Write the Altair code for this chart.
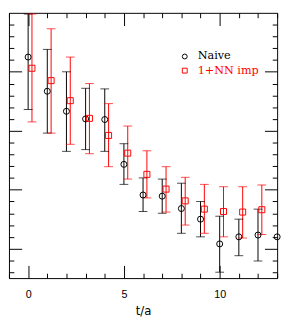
import altair as alt
import pandas as pd

# ---- data ----
t_naive = list(range(14))
naive_val = [4.25, 3.67, 3.33, 3.20, 3.19, 2.43, 1.91, 1.89, 1.68, 1.50, 1.08, 1.20, 1.23, 1.20]
naive_lo = [3.36, 2.96, 2.65, 2.68, 2.65, 2.09, 1.63, 1.60, 1.26, 1.20, 0.60, 0.88, 0.79, None]
naive_hi = [4.98, 4.38, 4.00, 3.72, 3.71, 2.78, 2.20, 2.18, 2.11, 1.80, 1.55, 1.50, 1.67, None]

t_imp = list(range(13))
imp_val = [4.06, 3.85, 3.51, 3.21, 2.92, 2.62, 2.26, 2.01, 1.81, 1.67, 1.63, 1.62, 1.66]
imp_lo = [3.15, 2.96, 2.77, 2.61, 2.39, 2.18, 1.86, 1.62, 1.40, 1.26, 1.20, 1.18, 1.24]
imp_hi = [4.98, 4.73, 4.25, 3.80, 3.46, 3.08, 2.66, 2.39, 2.21, 2.09, 2.05, 2.05, 2.08]

series_names = ["Naive", "1+NN imp"]
series_colors = ["#000000", "#ff0000"]
series_shapes = ["circle", "square"]

x_title = "t/a"
x_major = [0, 5, 10]
x_minor = [v for v in range(-1, 14) if v % 5 != 0]
y_major = [1, 2, 3, 4]
y_minor = [v / 10 for v in range(6, 50, 2) if v % 10 != 0]

rows = []
for t, v, lo, hi in zip(t_naive, naive_val, naive_lo, naive_hi):
    rows.append({"series": series_names[0], "t": t, "val": v, "lo": lo, "hi": hi})
for t, v, lo, hi in zip(t_imp, imp_val, imp_lo, imp_hi):
    rows.append({"series": series_names[1], "t": t, "val": v, "lo": lo, "hi": hi})
df = pd.DataFrame(rows)

xs = alt.Scale(domain=[-1, 13], nice=False, zero=False)
ys = alt.Scale(domain=[0.5, 5.0], nice=False, zero=False)
cscale = alt.Scale(domain=series_names, range=series_colors)
sscale = alt.Scale(domain=series_names, range=series_shapes)


def axis(orient, values, size, **extra):
    opts = dict(orient=orient, values=values, tickSize=size, offset=-size,
                labels=False, domain=False, grid=False, tickColor="#000000",
                tickWidth=1, title=None)
    opts.update(extra)
    return alt.Axis(**opts)


bottom_major = axis("bottom", x_major, 13, labels=True, labelPadding=11,
                    labelFont="Liberation Sans", labelFontSize=11, labelColor="#000000",
                    title=x_title, titleFont="DejaVu Sans", titleFontSize=12,
                    titleFontWeight="normal", titleColor="#000000", titlePadding=6)
bottom_minor = axis("bottom", x_minor, 5)
top_major = axis("top", x_major, 13)
top_minor = axis("top", x_minor, 5)
left_major = axis("left", y_major, 13)
left_minor = axis("left", y_minor, 5)
right_major = axis("right", y_major, 13)
right_minor = axis("right", y_minor, 5)

legend = alt.Legend(
    orient="none", legendX=174.5, legendY=39, title=None, padding=0,
    labelFont="DejaVu Serif", labelFontSize=11.5, labelOffset=7.5,
    labelColor={"expr": "datum.label === 'Naive' ? '#000000' : '#ff0000'"},
    symbolSize=25, symbolStrokeWidth=1, rowPadding=1.5,
)

base = alt.Chart(df).transform_calculate(
    xpos="datum.t + (datum.series === 'Naive' ? 0 : 0.2)"
)
col = alt.condition("datum.series === 'Naive'", alt.value(series_colors[0]),
                    alt.value(series_colors[1]))

bars = base.transform_filter("isValid(datum.lo)").mark_rule(strokeWidth=1).encode(
    x=alt.X("xpos:Q", scale=xs, axis=bottom_major),
    y=alt.Y("lo:Q", scale=ys, axis=left_major),
    y2="hi:Q",
    color=col,
)
cap_hi = base.transform_filter("isValid(datum.hi)").mark_tick(
    orient="horizontal", size=9, thickness=1
).encode(
    x=alt.X("xpos:Q", scale=xs, axis=bottom_minor),
    y=alt.Y("hi:Q", scale=ys, axis=left_minor),
    color=col,
)
cap_lo = base.transform_filter("isValid(datum.lo)").mark_tick(
    orient="horizontal", size=9, thickness=1
).encode(
    x=alt.X("xpos:Q", scale=xs, axis=top_major),
    y=alt.Y("lo:Q", scale=ys, axis=right_major),
    color=col,
)
points = base.mark_point(size=38, strokeWidth=1, filled=False, opacity=1).encode(
    x=alt.X("xpos:Q", scale=xs, axis=top_minor),
    y=alt.Y("val:Q", scale=ys, axis=right_minor),
    color=alt.Color("series:N", scale=cscale, legend=legend),
    shape=alt.Shape("series:N", scale=sscale, legend=legend),
)

chart = (
    alt.layer(bars, cap_hi, cap_lo, points)
    .resolve_axis(x="independent", y="independent")
    .properties(width=275, height=272, padding=0)
    .configure_view(stroke="#000000", strokeWidth=1)
)

chart.save("out.html", embed_options={"renderer": "svg", "actions": False})
